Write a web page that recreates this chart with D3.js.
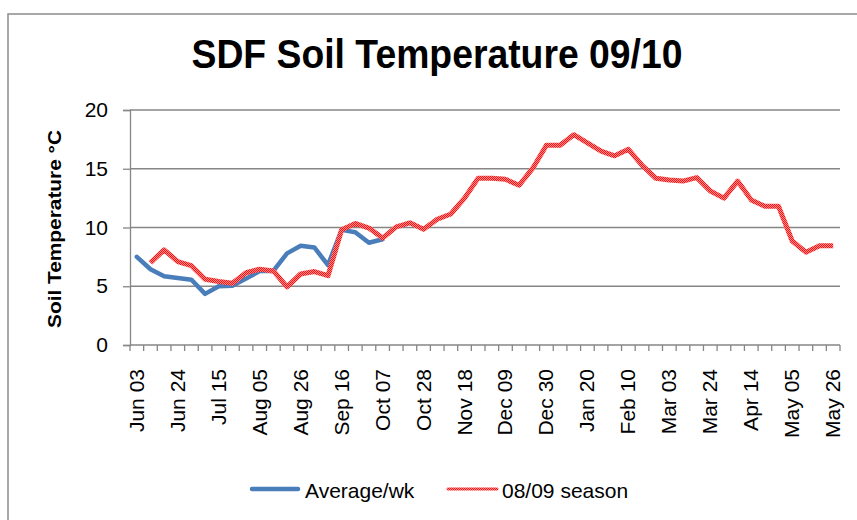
<!DOCTYPE html>
<html><head><meta charset="utf-8">
<script src="https://cdn.jsdelivr.net/npm/d3@7"></script>
<style>html,body{margin:0;padding:0;background:#fff;}svg{display:block;}</style>
</head><body>
<script>
const weeks = ["Jun 03","Jun 10","Jun 17","Jun 24","Jul 01","Jul 08","Jul 15","Jul 22","Jul 29",
"Aug 05","Aug 12","Aug 19","Aug 26","Sep 02","Sep 09","Sep 16","Sep 23","Sep 30",
"Oct 07","Oct 14","Oct 21","Oct 28","Nov 04","Nov 11","Nov 18","Nov 25",
"Dec 02","Dec 09","Dec 16","Dec 23","Dec 30","Jan 06","Jan 13","Jan 20","Jan 27",
"Feb 03","Feb 10","Feb 17","Feb 24","Mar 03","Mar 10","Mar 17","Mar 24","Mar 31",
"Apr 07","Apr 14","Apr 21","Apr 28","May 05","May 12","May 19","May 26"];
const tickLabels = ["Jun 03","Jun 24","Jul 15","Aug 05","Aug 26","Sep 16","Oct 07","Oct 28","Nov 18",
"Dec 09","Dec 30","Jan 20","Feb 10","Mar 03","Mar 24","Apr 14","May 05","May 26"];
const averageWk = [7.5,6.45,5.85,5.7,5.55,4.35,5.0,5.05,5.65,6.3,6.3,7.8,8.45,8.3,6.8,9.8,9.6,8.7,9.0];
const season0809 = [null,7.0,8.1,7.1,6.75,5.6,5.4,5.25,6.15,6.45,6.3,4.95,6.05,6.25,5.9,9.8,
10.35,9.95,9.1,10.05,10.4,9.85,10.7,11.15,12.5,14.2,14.2,14.1,13.6,15.05,17.0,17.0,17.9,17.2,
16.5,16.1,16.65,15.3,14.2,14.05,13.95,14.25,13.1,12.5,13.95,12.35,11.8,11.8,8.85,7.9,8.45,8.45];
const yTicks = [0,5,10,15,20];
const seriesNames = ["Average/wk","08/09 season"];

(function(){
const W = 857, H = 520;
const svg = d3.select("body").append("svg").attr("width", W).attr("height", H);
const defs = svg.append("defs");
const pat = defs.append("pattern").attr("id","redtex").attr("patternUnits","userSpaceOnUse")
  .attr("width",2).attr("height",2);
pat.append("rect").attr("width",2).attr("height",2).attr("fill","#ff8f8f");
pat.append("rect").attr("width",1).attr("height",1).attr("fill","#ff1010");
pat.append("rect").attr("x",1).attr("y",1).attr("width",1).attr("height",1).attr("fill","#ff1010");

// chart border
svg.append("rect").attr("x",8).attr("y",14).attr("width",860).attr("height",520)
  .attr("fill","none").attr("stroke","#8c8c8c").attr("stroke-width",1.5);

const pLeft = 130, pRight = 840, pTop = 110, pBottom = 345;
const x = d3.scaleBand().domain(weeks).range([pLeft, pRight]).padding(0);
const y = d3.scaleLinear().domain([0,20]).range([pBottom, pTop]);
const cx = d => x(d) + x.bandwidth()/2;
const axisColor = "#868686";

// gridlines
svg.append("g").selectAll("line").data(yTicks).join("line")
  .attr("x1", pLeft).attr("x2", pRight).attr("y1", d=>y(d)).attr("y2", d=>y(d))
  .attr("stroke", axisColor).attr("stroke-width", 1.3);

// y axis
const yAxis = svg.append("g").attr("transform",`translate(${pLeft},0)`)
  .call(d3.axisLeft(y).tickValues(yTicks).tickSize(7).tickPadding(15));
yAxis.select(".domain").attr("stroke", axisColor).attr("stroke-width",1.3);
yAxis.selectAll(".tick line").attr("stroke", axisColor).attr("stroke-width",1.3);
yAxis.selectAll(".tick text").attr("font-family","'Liberation Sans', Arial, sans-serif")
  .attr("font-size",21).attr("fill","#000");

// x axis ticks at category boundaries
const bounds = weeks.map(w => x(w)).concat([x(weeks[weeks.length-1]) + x.bandwidth()]);
svg.append("g").selectAll("line").data(bounds).join("line")
  .attr("x1", d=>d).attr("x2", d=>d).attr("y1", pBottom).attr("y2", pBottom+6)
  .attr("stroke", axisColor).attr("stroke-width",1.3);
svg.append("g").selectAll("text").data(tickLabels).join("text")
  .attr("transform", d => `translate(${cx(d)+7},${pBottom+24}) rotate(-90)`)
  .attr("text-anchor","end")
  .attr("font-family","'Liberation Sans', Arial, sans-serif").attr("font-size",21)
  .attr("fill","#000").text(d=>d);

// series
const line = d3.line().defined(d => d.v != null).x(d => cx(d.w)).y(d => y(d.v));
svg.append("path").datum(averageWk.map((v,i)=>({w:weeks[i], v})))
  .attr("d", line).attr("fill","none").attr("stroke","#4a7ebb").attr("stroke-width",4.5)
  .attr("stroke-linejoin","round").attr("stroke-linecap","round");
svg.append("path").datum(season0809.map((v,i)=>({w:weeks[i], v})))
  .attr("d", line).attr("fill","none").attr("stroke","url(#redtex)").attr("stroke-width",5)
  .attr("stroke-linejoin","round");

// title
svg.append("text").attr("x", 437).attr("y", 68).attr("text-anchor","middle")
  .attr("font-family","'Liberation Sans Narrow','Liberation Sans', Arial, sans-serif")
  .attr("font-weight","bold").attr("font-size",41)
  .attr("textLength",491).attr("lengthAdjust","spacingAndGlyphs")
  .text("SDF Soil Temperature 09/10");

// y title
svg.append("text").attr("transform","translate(61,229) rotate(-90)").attr("text-anchor","middle")
  .attr("font-family","'Liberation Sans', Arial, sans-serif").attr("font-weight","bold")
  .attr("font-size",19).attr("textLength",198).attr("lengthAdjust","spacingAndGlyphs")
  .text("Soil Temperature °C");

// legend
const leg = [{name:seriesNames[0], x1:252, x2:298, stroke:"#4a7ebb", w:4.5, tx:305},
             {name:seriesNames[1], x1:448, x2:497, stroke:"url(#redtex)", w:3, tx:502}];
const lg = svg.append("g");
lg.selectAll("line").data(leg).join("line")
  .attr("x1",d=>d.x1).attr("x2",d=>d.x2).attr("y1",489).attr("y2",489)
  .attr("stroke",d=>d.stroke).attr("stroke-width",d=>d.w).attr("stroke-linecap","round");
lg.selectAll("text").data(leg).join("text")
  .attr("x",d=>d.tx).attr("y",498)
  .attr("font-family","'Liberation Sans', Arial, sans-serif").attr("font-size",21).attr("fill","#000")
  .text(d=>d.name);
})();
</script>
</body></html>
